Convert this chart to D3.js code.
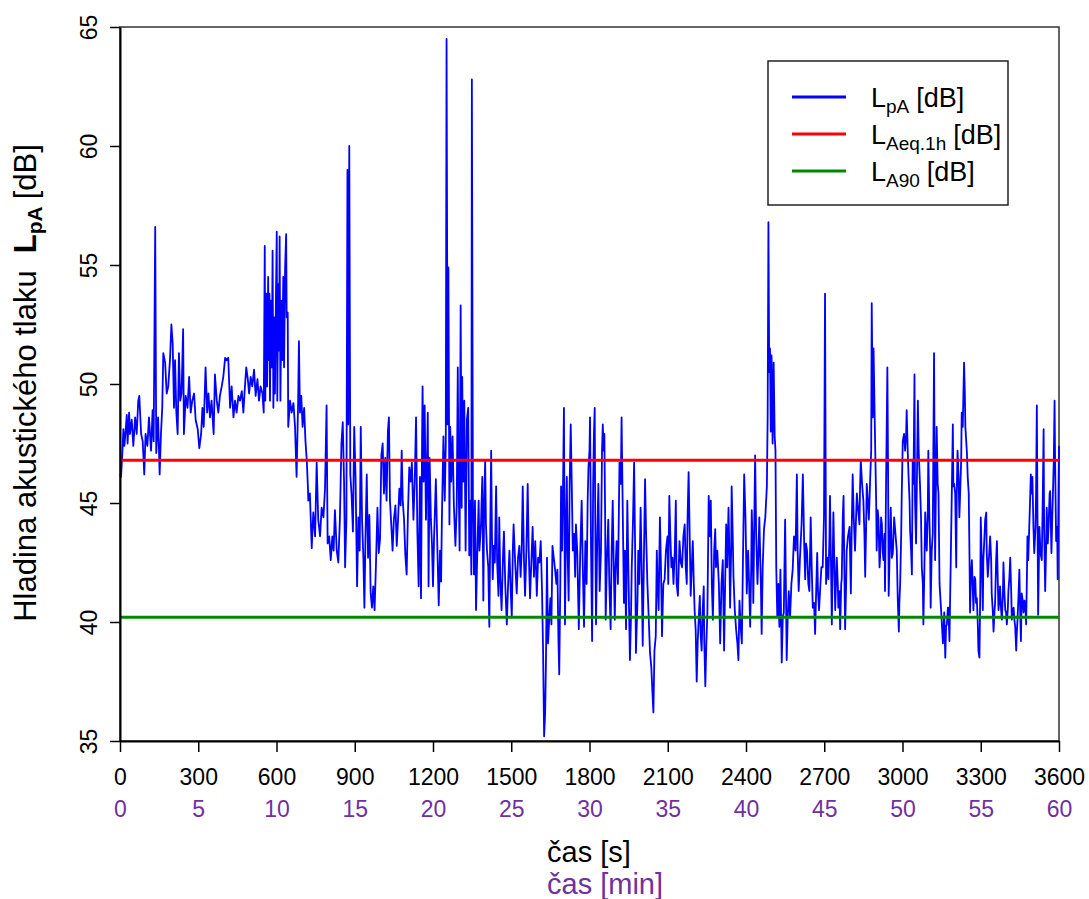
<!DOCTYPE html>
<html><head><meta charset="utf-8">
<script src="https://cdn.jsdelivr.net/npm/d3@7/dist/d3.min.js"></script>
<style>
body{margin:0;background:#fff;}
svg{display:block;font-family:"Liberation Sans",Arial,sans-serif;}
</style></head>
<body><svg id="chart" width="1089" height="899"></svg>
<script>
// ---- data ----
const secTicks = [0,300,600,900,1200,1500,1800,2100,2400,2700,3000,3300,3600];
const minTicks = [0,5,10,15,20,25,30,35,40,45,50,55,60];
const yTicks = [35,40,45,50,55,60,65];
const LAeq1h = 46.8;
const LA90 = 40.2;
const legendLabels = [["pA"],["Aeq.1h"],["A90"]];
// [time s, LpA dB]
const lpaSamples = [
[0,46.2],[4,46.1],[9,47.1],[13,48.1],[17,47.4],[22,48.1],[26,48.7],[29,47.5],[35,48.8],[38,47.9],[45,48.5],[51,47.4],[58,48.6],[64,47.9],[70,49.3],[74,49.5],[81,47.9],[87,47.6],[93,46.2],[98,47.9],[105,47.4],[111,48.6],[119,47.2],[125,48.9],[129,47.6],[135,56.6],[139,47.1],[146,48.6],[152,46.2],[157,47.9],[162,49.0],[166,51.3],[173,50.9],[179,49.6],[185,49.9],[192,51.1],[197,52.5],[202,51.7],[207,49.0],[211,51.0],[216,48.8],[221,47.9],[226,51.3],[231,49.3],[236,49.6],[242,52.3],[245,47.9],[252,49.5],[259,49.0],[265,50.3],[271,48.8],[277,49.3],[284,49.6],[290,48.5],[298,48.1],[304,47.3],[311,47.9],[316,49.0],[321,48.2],[328,50.7],[334,48.8],[339,49.6],[345,48.6],[351,49.3],[359,47.9],[364,50.4],[371,49.3],[377,48.8],[383,49.5],[390,49.9],[396,50.3],[403,51.1],[409,51.0],[415,51.1],[422,49.0],[428,49.9],[435,48.6],[441,49.3],[447,48.8],[454,49.5],
[460,49.3],[467,49.7],[473,48.8],[479,49.9],[484,50.7],[490,50.2],[495,49.6],[501,50.3],[507,49.9],[514,50.6],[520,49.5],[527,50.2],[533,49.3],[539,49.9],[546,49.6],[551,48.8],[555,55.8],[557,49.3],[561,53.8],[564,49.9],[568,54.5],[570,51.0],[573,53.8],[575,49.3],[578,53.5],[582,50.7],[585,55.6],[588,49.0],[592,52.8],[594,49.6],[598,53.8],[601,56.4],[603,49.3],[607,54.2],[610,51.4],[612,56.2],[615,49.3],[619,53.5],[622,51.0],[626,54.5],[629,50.7],[633,54.9],[637,56.3],[639,52.8],[643,53.0],[645,48.2],[652,49.3],[658,48.8],[665,49.2],[671,48.2],[677,46.1],[683,49.3],[686,51.8],[690,48.8],[695,49.5],[700,48.2],[706,49.0],[711,47.6],[716,46.8],[720,45.8],
[722,45.1],[728,45.4],[735,43.1],[741,44.6],[748,43.6],[754,46.7],[760,44.3],[767,43.6],[773,44.8],[780,44.4],[786,45.6],[792,49.1],[796,43.3],[802,43.6],[808,42.6],[814,43.6],[819,43.0],[824,44.7],[831,43.0],[837,42.5],[843,44.3],[849,47.5],[854,48.4],[859,45.9],[863,42.3],[868,44.3],[872,59.0],[875,48.3],[879,60.0],[883,46.2],[888,45.3],[893,43.8],[898,48.2],[903,46.1],[909,41.5],[914,44.4],[919,43.0],[923,48.2],[928,44.3],[933,42.7],[937,40.6],[941,43.5],[946,46.2],[951,42.7],[956,44.5],[961,41.2],[966,40.6],[971,41.5],[976,40.5],[981,42.3],[987,44.8],[992,42.9],[997,43.5],[1002,47.0],[1007,47.5],[1012,45.4],[1017,46.9],[1022,45.1],[1027,48.0],[1031,48.6],[1035,45.1],[1040,44.1],[1045,43.0],[1050,44.3],[1056,44.9],[1061,43.2],[1066,44.3],[1071,45.6],[1076,44.9],[1080,47.2],[1084,45.1],[1089,44.3],[1094,42.8],[1099,42.0],[1104,44.6],[1109,46.5],[1114,45.9],[1119,46.7],[1125,44.3],[1130,45.9],[1135,48.6],[1140,43.8],[1145,41.5],[1150,46.1],[1154,41.0],[1158,47.5],[1160,49.9],[1164,45.9],[1168,49.1],[1173,44.3],[1177,46.7],[1180,48.8],[1183,41.5],[1187,46.9],[1192,44.3],[1196,43.3],[1200,41.5],[1204,43.5],[1208,44.9],[1211,46.0],[1217,43.0],[1222,40.7],[1227,43.0],[1231,41.7],[1234,44.3],[1240,47.8],[1245,45.1],[1249,47.5],[1252,64.5],[1256,48.3],[1259,54.9],[1263,44.1],[1266,48.2],[1270,45.9],[1275,47.8],[1280,44.9],[1286,43.2],[1291,44.9],[1295,50.7],[1298,46.1],[1302,43.0],[1306,53.3],[1310,44.8],[1312,50.3],[1316,45.9],[1320,49.3],[1325,43.0],[1330,48.5],[1335,49.0],[1339,42.8],[1343,45.1],[1347,42.0],[1349,62.8],[1353,45.2],[1357,42.0],[1361,45.1],[1365,40.5],[1370,43.0],[1375,45.1],
[1378,43.0],[1384,44.1],[1389,46.1],[1393,40.9],[1396,44.8],[1400,46.8],[1403,44.1],[1407,43.0],[1412,42.3],[1416,39.8],[1420,44.4],[1423,47.2],[1426,43.6],[1429,41.8],[1433,43.2],[1437,42.5],[1442,45.7],[1446,42.5],[1451,41.1],[1454,44.4],[1458,41.8],[1463,40.5],[1469,43.0],[1472,43.8],[1477,41.6],[1483,39.9],[1488,41.6],[1493,43.0],[1497,41.6],[1502,40.2],[1506,43.0],[1509,44.1],[1515,42.5],[1521,41.2],[1526,42.7],[1531,43.2],[1536,41.9],[1540,43.0],[1544,45.7],[1549,42.5],[1553,41.1],[1558,43.0],[1563,45.8],[1567,43.0],[1572,41.0],[1577,42.5],[1582,44.0],[1587,41.9],[1592,43.4],[1598,41.1],[1603,42.7],[1608,42.5],[1613,43.4],[1618,41.3],[1622,38.8],[1626,35.2],[1630,36.2],[1633,38.3],[1637,42.7],[1641,39.1],[1646,40.2],[1650,41.0],[1654,39.9],[1658,43.2],[1663,42.7],[1668,42.2],[1673,41.6],[1677,42.2],[1681,39.2],[1684,37.8],[1688,41.6],[1691,45.7],[1695,43.0],[1699,46.1],[1702,49.0],[1706,39.9],[1710,44.1],[1713,46.1],[1716,43.0],[1720,40.9],[1724,45.8],[1728,48.3],[1732,45.8],[1736,43.0],[1741,43.7],[1745,41.9],[1748,44.1],[1753,43.0],[1759,39.7],[1764,42.7],[1770,45.1],[1774,42.5],[1779,39.8],[1784,43.4],[1789,41.6],[1793,45.1],[1796,46.5],[1800,47.2],[1802,48.6],[1806,43.0],[1810,39.2],[1814,45.8],[1817,47.9],[1820,49.0],[1822,44.4],[1825,39.9],[1830,43.7],[1834,45.8],[1839,41.3],[1844,43.0],[1848,47.2],[1851,48.3],[1854,47.2],[1857,47.9],[1860,44.4],[1862,40.1],[1867,42.7],[1872,44.3],[1876,41.6],[1881,39.7],[1885,43.0],[1889,45.1],[1893,42.3],[1897,40.1],[1900,42.3],[1904,43.4],[1909,41.6],[1915,46.7],[1920,45.8],[1923,48.6],[1927,45.1],[1932,40.8],[1936,43.0],[1940,39.7],[1945,45.1],[1950,41.6],[1955,38.4],[1959,40.2],[1962,42.3],[1967,44.4],[1971,46.7],[1975,43.0],[1978,38.7],[1984,40.9],[1987,43.0],[1991,41.6],[1996,44.8],[2000,42.3],[2004,39.0],[2009,43.0],[2013,46.0],[2017,43.7],[2022,41.6],[2027,40.2],[2032,38.7],[2037,38.1],[2041,37.1],[2045,36.2],[2049,38.8],[2054,39.4],[2058,43.0],[2061,41.6],[2065,40.5],[2070,44.4],[2074,42.3],[2078,39.4],[2083,41.6],[2088,41.8],[2093,43.0],[2099,43.6],[2102,41.6],[2106,45.3],[2110,43.6],[2114,42.3],[2118,42.7],[2122,41.6],[2127,43.0],[2131,45.1],[2134,41.6],[2139,41.1],[2145,43.4],[2150,42.5],[2155,42.3],[2160,43.6],[2165,44.1],[2169,42.3],[2173,41.6],[2176,44.4],[2180,46.3],[2184,43.7],[2188,41.1],[2192,42.3],[2196,43.4],[2200,41.6],[2203,40.5],[2207,39.7],[2211,37.5],[2215,39.2],[2219,40.2],[2223,41.1],[2226,39.5],[2230,38.8],[2234,40.5],[2238,41.5],[2240,39.2],[2244,37.3],[2248,39.1],[2252,40.4],[2257,45.3],
[2262,43.6],[2265,45.1],[2269,41.6],[2273,40.1],[2278,43.0],[2282,43.9],[2285,42.3],[2290,43.0],[2296,41.6],[2301,39.1],[2306,41.6],[2311,42.6],[2316,38.8],[2320,41.6],[2324,44.1],[2328,42.3],[2333,44.8],[2336,43.0],[2339,40.6],[2343,43.0],[2345,45.7],[2349,43.7],[2352,41.9],[2357,40.5],[2362,39.7],[2367,39.1],[2371,38.4],[2375,40.9],[2379,39.9],[2384,39.1],[2388,42.3],[2393,46.2],[2398,44.4],[2403,41.2],[2408,43.0],[2412,41.6],[2416,39.8],[2420,42.3],[2422,44.7],[2426,43.0],[2428,40.8],[2432,44.4],[2435,47.0],[2439,43.7],[2444,41.6],[2448,43.0],[2451,44.4],[2457,41.6],[2460,39.5],[2464,42.3],[2469,43.9],[2474,44.4],[2480,45.7],[2483,48.6],[2486,56.8],[2489,50.5],[2492,51.5],[2495,48.0],[2498,51.2],[2502,47.5],[2506,50.9],[2510,47.8],[2513,47.2],[2516,42.3],[2520,40.2],[2524,41.6],[2528,39.8],[2532,42.2],[2537,38.3],[2541,40.2],[2545,40.4],[2550,44.3],[2554,40.5],[2556,38.4],[2560,40.2],[2564,41.3],[2569,40.2],[2574,41.6],[2579,42.2],[2584,43.6],[2590,43.0],[2595,46.2],[2598,43.0],[2602,41.3],[2607,42.7],[2613,44.1],[2618,46.2],[2623,43.3],[2627,41.8],[2630,43.3],[2634,43.0],[2639,41.6],[2643,41.3],[2648,44.4],[2652,42.3],[2656,40.6],[2661,40.8],[2665,39.5],[2669,41.3],[2673,42.9],[2676,41.3],[2680,40.5],[2684,41.3],[2689,42.3],[2694,42.3],[2699,44.4],[2703,53.8],[2707,41.6],[2712,42.7],[2716,41.8],[2720,43.6],[2722,45.3],[2726,42.3],[2729,39.9],[2733,43.0],[2735,44.6],[2739,42.3],[2742,40.5],[2745,41.6],[2748,42.7],[2752,41.6],[2754,40.6],[2758,41.3],[2761,39.7],[2765,41.6],[2767,41.8],[2771,44.4],[2774,45.3],[2777,42.3],[2780,39.7],[2784,41.6],[2786,43.0],[2791,43.6],[2797,44.0],[2802,41.2],[2805,43.7],[2809,46.2],[2813,44.4],[2818,43.0],[2822,44.4],[2825,45.4],[2830,44.7],[2835,44.1],[2837,45.5],[2840,46.8],[2845,45.8],[2850,45.1],[2854,43.7],[2857,41.9],[2860,43.7],[2863,45.8],[2867,45.1],[2871,44.3],[2876,46.0],[2880,47.2],[2882,53.4],[2886,48.6],[2889,51.5],[2895,47.5],[2899,45.1],[2901,43.0],[2905,44.7],[2908,44.3],[2912,42.3],[2914,42.7],[2918,44.4],[2921,44.1],[2924,43.0],[2927,42.6],[2931,43.7],[2933,41.3],[2937,45.8],[2942,50.7],[2945,45.8],[2947,41.1],[2951,43.0],[2955,44.8],[2959,42.7],[2963,42.9],[2968,44.4],[2973,43.7],[2978,43.0],[2982,40.9],[2986,39.6],[2988,40.8],[2991,41.6],[2995,43.7],[2997,45.3],[3001,47.6],[3006,47.9],[3010,47.2],[3014,47.9],[3016,48.9],[3020,47.2],[3023,46.2],[3027,45.1],[3029,43.9],[3033,43.0],[3036,42.0],[3039,46.8],[3042,45.8],[3046,50.4],[3048,45.1],[3052,43.3],[3055,45.8],[3059,49.3],[3062,47.2],[3067,45.8],[3071,44.4],[3074,42.3],[3078,41.6],[3080,39.9],[3084,42.3],[3087,44.6],[3090,43.7],[3093,43.0],[3097,44.7],[3099,47.2],[3103,44.4],[3106,43.0],[3108,40.6],[3112,43.0],[3116,43.7],[3121,51.3],[3125,42.6],[3129,46.5],[3131,48.2],[3135,45.8],[3138,45.4],[3142,41.6],
[3148,40.5],[3155,39.1],[3160,40.4],[3164,38.5],[3167,39.8],[3170,39.9],[3174,40.6],[3176,40.6],[3180,39.2],[3185,42.6],[3189,45.4],[3193,48.3],[3195,45.7],[3198,45.8],[3202,45.4],[3206,42.3],[3208,45.4],[3211,47.2],[3215,46.1],[3218,44.4],[3221,45.4],[3225,46.8],[3227,48.8],[3231,48.2],[3236,50.9],[3239,49.6],[3241,48.2],[3247,47.1],[3250,46.1],[3254,45.4],[3257,42.6],[3259,40.4],[3262,41.8],[3266,42.6],[3270,41.2],[3272,40.5],[3276,41.9],[3279,41.8],[3282,40.8],[3285,41.0],[3289,39.8],[3291,38.8],[3295,38.5],[3298,41.2],[3300,44.4],[3304,42.6],[3308,40.5],[3310,42.6],[3313,43.3],[3317,44.3],[3321,44.6],[3323,42.9],[3327,41.9],[3331,42.6],[3336,43.6],[3340,42.6],[3342,41.2],[3346,40.5],[3349,39.6],[3353,40.5],[3355,40.8],[3359,42.6],[3362,43.4],[3365,41.9],[3368,40.5],[3372,41.0],[3374,41.5],[3378,40.5],[3381,40.1],[3385,41.2],[3387,42.5],[3391,41.2],[3394,40.5],[3397,40.4],[3400,39.9],[3404,40.6],[3406,41.3],[3410,41.9],[3413,42.7],[3417,41.2],[3419,40.1],[3423,40.5],[3426,40.6],[3429,40.1],[3432,39.8],[3436,38.8],[3438,39.5],[3441,40.1],[3445,41.2],[3448,42.2],[3451,40.5],[3454,39.2],[3457,41.2],[3461,40.9],[3464,40.4],[3468,40.9],[3472,40.4],[3474,39.9],[3477,41.9],[3479,43.6],[3482,42.6],[3484,43.3],[3488,44.7],[3492,46.2],[3496,45.4],[3498,46.1],[3502,44.0],[3505,42.9],[3507,43.3],[3510,44.0],[3512,45.4],[3515,49.1],[3517,45.4],[3520,40.3],[3523,42.6],[3525,44.0],[3529,42.9],[3534,42.6],[3538,45.4],[3541,48.1],[3543,44.0],[3547,41.3],[3551,43.3],[3553,44.8],[3557,43.3],[3560,44.0],[3564,45.4],[3566,45.5],[3569,44.0],[3571,42.9],[3574,44.3],[3576,45.1],[3580,46.8],[3583,49.3],[3585,46.8],[3589,43.4],[3593,44.0],[3595,41.8],[3598,45.4],[3600,47.4]
];

// ---- layout ----
const L = 120, R = 1059, T = 27, B = 741;
const svg = d3.select("#chart");
const x = d3.scaleLinear().domain([0,3600]).range([L,R]);
const y = d3.scaleLinear().domain([35,65]).range([B,T]);
const purple = "#7030A0";

// frame
svg.append("rect").attr("x",L).attr("y",T).attr("width",R-L).attr("height",B-T)
  .attr("fill","none").attr("stroke","#333").attr("stroke-width",1.5);

// series
svg.append("path").datum(lpaSamples)
  .attr("fill","none").attr("stroke","#0000FF").attr("stroke-width",1.8)
  .attr("stroke-linejoin","round")
  .attr("d", d3.line().x(d=>x(d[0])).y(d=>y(d[1])));

svg.append("line").attr("x1",x(0)).attr("x2",x(3600)).attr("y1",y(LAeq1h)).attr("y2",y(LAeq1h))
  .attr("stroke","#FF0000").attr("stroke-width",3);
svg.append("line").attr("x1",x(0)).attr("x2",x(3600)).attr("y1",y(LA90)).attr("y2",y(LA90))
  .attr("stroke","#008800").attr("stroke-width",3);

// axes
const yAxis = svg.append("g").attr("transform",`translate(${L},0)`)
  .call(d3.axisLeft(y).tickValues(yTicks).tickSize(10).tickSizeOuter(0));
yAxis.select(".domain").attr("stroke","#000").attr("stroke-width",2);
yAxis.selectAll(".tick line").attr("stroke","#000").attr("stroke-width",1.5);
yAxis.selectAll(".tick text").attr("x",null).attr("dy",null)
  .attr("transform","translate(-23,0) rotate(-90)")
  .attr("text-anchor","middle").attr("fill","#000")
  .style("font-size","23px").style("font-family","'Liberation Sans',Arial,sans-serif");

const xAxis = svg.append("g").attr("transform",`translate(0,${B})`)
  .call(d3.axisBottom(x).tickValues(secTicks).tickSize(11).tickSizeOuter(0).tickFormat(d3.format("d")));
xAxis.select(".domain").attr("stroke","#000").attr("stroke-width",2);
xAxis.selectAll(".tick line").attr("stroke","#000").attr("stroke-width",1.5);
xAxis.selectAll(".tick text").attr("y",44).attr("dy",null).attr("fill","#000")
  .style("font-size","23px").style("font-family","'Liberation Sans',Arial,sans-serif");

const xMin = d3.scaleLinear().domain([0,60]).range([L,R]);
const xAxis2 = svg.append("g").attr("transform",`translate(0,${B})`)
  .call(d3.axisBottom(xMin).tickValues(minTicks).tickSize(0).tickFormat(d3.format("d")));
xAxis2.select(".domain").remove();
xAxis2.selectAll(".tick line").remove();
xAxis2.selectAll(".tick text").attr("y",76).attr("dy",null).attr("fill",purple)
  .style("font-size","23px").style("font-family","'Liberation Sans',Arial,sans-serif");

// axis titles
svg.append("text").attr("x",547).attr("y",862).attr("text-anchor","start")
  .style("font-size","29px").attr("fill","#000").text("čas [s]");
svg.append("text").attr("x",547).attr("y",894).attr("text-anchor","start")
  .style("font-size","29px").attr("fill",purple).text("čas [min]");

const yt = svg.append("text").attr("transform",`translate(36,${(T+B)/2 - 1}) rotate(-90)`)
  .attr("text-anchor","middle").style("font-size","31px").attr("fill","#000");
yt.append("tspan").text("Hladina akustického tlaku");
yt.append("tspan").attr("dx",17).style("font-weight","bold").text("L");
yt.append("tspan").attr("dy",6).style("font-weight","bold").style("font-size","21px").text("pA");
yt.append("tspan").attr("dy",-6).attr("dx",7).text("[dB]");

// legend
const lg = svg.append("g");
lg.append("rect").attr("x",768).attr("y",61).attr("width",240).attr("height",144)
  .attr("fill","#fff").attr("stroke","#222").attr("stroke-width",1.5);
const legColors = ["#0000FF","#FF0000","#008800"];
legendLabels.forEach((sub,i)=>{
  const cy = 97 + i*37;
  lg.append("line").attr("x1",792).attr("x2",846).attr("y1",cy).attr("y2",cy)
    .attr("stroke",legColors[i]).attr("stroke-width",3);
  const t = lg.append("text").attr("x",871).attr("y",cy+10).style("font-size","27px").attr("fill","#000");
  t.append("tspan").text("L");
  t.append("tspan").attr("dy",6).style("font-size","19px").text(sub[0]);
  t.append("tspan").attr("dy",-6).attr("dx",7).text("[dB]");
});
</script>
</body></html>
